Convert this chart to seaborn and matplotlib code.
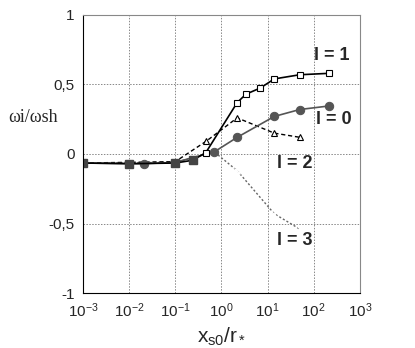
import numpy as np
import pandas as pd
import matplotlib
matplotlib.use("Agg")
import matplotlib.pyplot as plt
import seaborn as sns

# values
x_l1 = [1e-3, 1e-2, 0.1, 0.24, 0.46, 2.2, 3.4, 7, 14, 50, 210]
y_l1 = [-0.065, -0.07, -0.065, -0.045, 0.01, 0.37, 0.43, 0.475, 0.54, 0.57, 0.58]

x_l0 = [1e-3, 0.021, 0.1, 0.7, 2.2, 14, 50, 210]
y_l0 = [-0.065, -0.07, -0.06, 0.015, 0.12, 0.27, 0.32, 0.345]

x_l2 = [1e-3, 0.1, 0.46, 2.2, 14, 50]
y_l2 = [-0.065, -0.055, 0.09, 0.26, 0.15, 0.12]

x_l3 = [1e-3, 2e-3, 0.1, 0.7, 2.2, 14, 50]
y_l3 = [-0.065, -0.065, -0.06, 0.015, -0.12, -0.43, -0.54]

labels = ["l = 1", "l = 0", "l = 2", "l = 3"]
xticks = [1e-3, 1e-2, 1e-1, 1, 10, 100, 1000]
yticks = [-1, -0.5, 0, 0.5, 1]
yticklabels = ["-1", "-0,5", "0", "0,5", "1"]

sns.set_style("white")
plt.rcParams['font.family'] = ['Liberation Sans', 'DejaVu Sans']
plt.rcParams['mathtext.fontset'] = 'custom'
plt.rcParams['mathtext.rm'] = 'Liberation Sans'
plt.rcParams['mathtext.it'] = 'Liberation Sans'
fig = plt.figure(figsize=(4.15, 3.48), dpi=100)
ax = fig.add_axes([0.2, 0.158, 0.667, 0.799])

df1 = pd.DataFrame({"x": x_l1, "y": y_l1})
df0 = pd.DataFrame({"x": x_l0, "y": y_l0})
df2 = pd.DataFrame({"x": x_l2, "y": y_l2})
df3 = pd.DataFrame({"x": x_l3, "y": y_l3})

sns.lineplot(data=df3, x="x", y="y", ax=ax, color="#666666", lw=1.0, ls=(0, (1.5, 1.5)),
             marker="x", markersize=5, markevery=[1, 4, 5, 6], mew=0.9)
sns.lineplot(data=df2, x="x", y="y", ax=ax, color="black", lw=1.0, ls=(0, (3, 2)),
             marker="^", markersize=5, markevery=[2, 3, 4, 5], mfc="white", mec="black", mew=0.8)
sns.lineplot(data=df0, x="x", y="y", ax=ax, color="#555555", lw=1.2,
             marker="o", markersize=6, markevery=[1, 3, 4, 5, 6, 7], mec="#555555")
sns.lineplot(data=df1, x="x", y="y", ax=ax, color="black", lw=1.2,
             marker="s", markersize=5, mfc="white", mec="black", mew=0.8)
# the first squares are drawn filled
ax.plot(x_l1[:4], y_l1[:4], ls="none", marker="s", markersize=6, color="#444444")

ax.set_xscale("log")
ax.set_xlim(1e-3, 1e3)
ax.set_ylim(-1, 1)
ax.set_xticks(xticks)
ax.set_yticks(yticks)
ax.set_yticklabels(yticklabels)
ax.minorticks_off()
ax.tick_params(axis="both", labelsize=11, length=0)
ax.tick_params(axis="x", pad=6)
ax.tick_params(axis="y", pad=6)
ax.grid(True, color="#888888", ls=(0, (1.5, 1.5)), lw=0.7)
for s in ax.spines.values():
    s.set_color("#888888")
    s.set_linewidth(0.8)
ax.spines["left"].set_color("black")
ax.spines["bottom"].set_color("black")

ax.set_xlabel(r"x$_{\mathrm{s0}}$/r$_*$", fontsize=15, labelpad=4)
ax.set_ylabel("ωi/ωsh", fontsize=13, rotation=0, ha="center", va="center",
              family=["Liberation Serif", "DejaVu Serif"])
ax.yaxis.set_label_coords(-0.18, 0.63)

ax.text(245, 0.71, labels[0], fontsize=13, fontweight="bold", ha="center", va="center")
ax.text(275, 0.245, labels[1], fontsize=13, fontweight="bold", ha="center", va="center")
ax.text(39, -0.065, labels[2], fontsize=13, fontweight="bold", ha="center", va="center")
ax.text(39, -0.62, labels[3], fontsize=13, fontweight="bold", ha="center", va="center")

fig.savefig("out.png", dpi=100)
